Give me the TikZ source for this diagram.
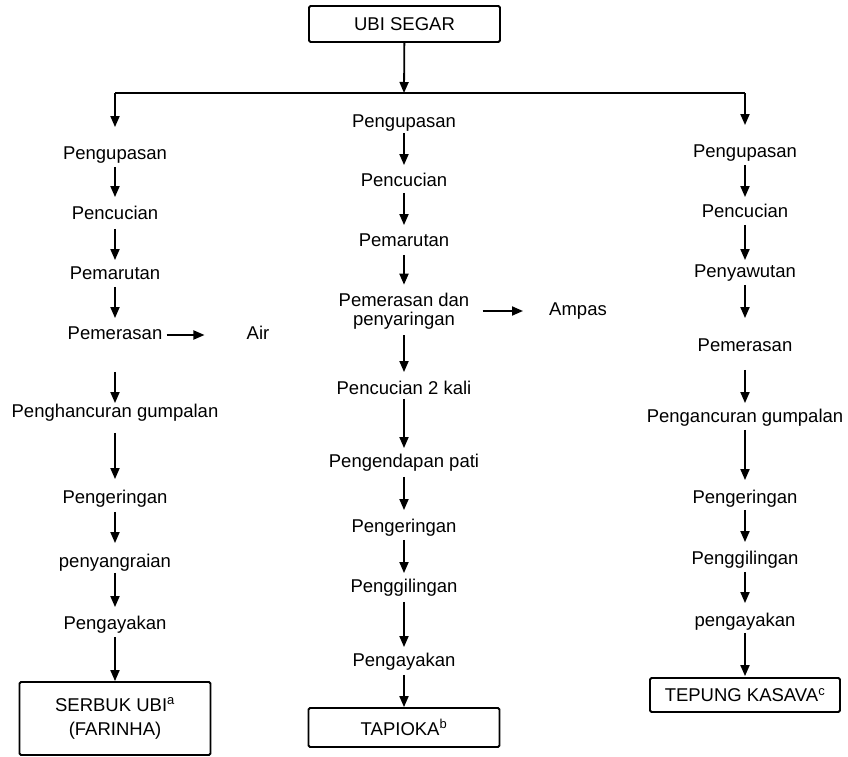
\documentclass[tikz,border=0pt]{standalone}
\usepackage{fontspec}
\setmainfont{Liberation Sans}
\usetikzlibrary{arrows.meta}
\begin{document}
\begin{tikzpicture}[x=1pt,y=-1pt,
  txt/.style={inner sep=0pt, text height=13.5pt, text depth=4pt, font=\fontsize{18.5}{19}\selectfont},
  txt2/.style={inner sep=0pt, align=center, font=\fontsize{18.5}{19}\selectfont},
  box/.style={draw, line width=1.8pt, rounded corners=1.5pt, inner sep=0pt, align=center, font=\fontsize{18.5}{24}\selectfont},
  arr/.style={line width=1.8pt, -{Triangle[width=9pt,length=11pt]}},
  ln/.style={line width=1.8pt}]
\useasboundingbox (0,0) rectangle (848,757);

% top
\node[box, minimum width=191pt, minimum height=36pt] (ubi) at (404.5,24) {UBI SEGAR};
\coordinate (jm) at (404,93);
\coordinate (jl) at (115,93);
\coordinate (jr) at (745,93);
\draw[arr] (ubi) -- (jm);
\draw[ln] (jl) -- (jr);

% left column
\node[txt] (l1) at (115,155) {Pengupasan};
\node[txt] (l2) at (115,215) {Pencucian};
\node[txt] (l3) at (115,275) {Pemarutan};
\node[txt] (l4) at (115,335) {Pemerasan};
\node[txt] (air) at (258,335) {Air};
\node[txt] (l5) at (115,413) {Penghancuran gumpalan};
\node[txt] (l6) at (115,499) {Pengeringan};
\node[txt] (l7) at (115,563) {penyangraian};
\node[txt] (l8) at (115,625) {Pengayakan};
\node[box, minimum width=191pt, minimum height=73pt] (serbuk) at (115,718.5) {SERBUK UBI\textsuperscript{a}\\(FARINHA)};

\draw[arr, shorten >=19pt] (jl) -- (l1);
\draw[arr, shorten <=3pt, shorten >=9pt] (l1) -- (l2);
\draw[arr, shorten <=5pt, shorten >=6pt] (l2) -- (l3);
\draw[arr, shorten <=3pt, shorten >=8pt] (l3) -- (l4);
\draw[arr, shorten <=28pt, shorten >=1pt] (l4) -- (l5);
\draw[arr, shorten <=11pt, shorten >=11pt] (l5) -- (l6);
\draw[arr, shorten <=4pt, shorten >=11pt] (l6) -- (l7);
\draw[arr, shorten <=1pt, shorten >=9pt] (l7) -- (l8);
\draw[arr, shorten <=3pt] (l8) -- (serbuk);
\draw[arr, shorten <=4pt, shorten >=42pt] (l4) -- (air);

% middle column
\node[txt] (m1) at (404,123) {Pengupasan};
\node[txt] (m2) at (404,182) {Pencucian};
\node[txt] (m3) at (404,242) {Pemarutan};
\node[txt2] (m4) at (404,311) {Pemerasan dan\\penyaringan};
\node[txt] (ampas) at (578,311) {Ampas};
\node[txt] (m5) at (404,390) {Pencucian 2 kali};
\node[txt] (m6) at (404,463) {Pengendapan pati};
\node[txt] (m7) at (404,528) {Pengeringan};
\node[txt] (m8) at (404,588) {Penggilingan};
\node[txt] (m9) at (404,662) {Pengayakan};
\node[box, minimum width=191pt, minimum height=39pt] (tapioka) at (404,727.5) {TAPIOKA\textsuperscript{b}};

\draw[arr, shorten <=1pt, shorten >=8pt] (m1) -- (m2);
\draw[arr, shorten <=2pt, shorten >=8pt] (m2) -- (m3);
\draw[arr, shorten <=4pt, shorten >=8pt] (m3) -- (m4);
\draw[arr, shorten <=6pt, shorten >=9pt] (m4) -- (m5);
\draw[arr, shorten >=6pt] (m5) -- (m6);
\draw[arr, shorten <=5pt, shorten >=9pt] (m6) -- (m7);
\draw[arr, shorten <=3pt, shorten >=6pt] (m7) -- (m8);
\draw[arr, shorten <=5pt, shorten >=6pt] (m8) -- (m9);
\draw[arr, shorten <=4pt] (m9) -- (tapioka);
\draw[arr, shorten <=13pt, shorten >=26pt] (m4) -- (ampas);

% right column
\node[txt] (r1) at (745,153) {Pengupasan};
\node[txt] (r2) at (745,213) {Pencucian};
\node[txt] (r3) at (745,273) {Penyawutan};
\node[txt] (r4) at (745,347) {Pemerasan};
\node[txt] (r5) at (745,418) {Pengancuran gumpalan};
\node[txt] (r6) at (745,499) {Pengeringan};
\node[txt] (r7) at (745,560) {Penggilingan};
\node[txt] (r8) at (745,622) {pengayakan};
\node[box, minimum width=190pt, minimum height=34pt] (tepung) at (745,695) {TEPUNG KASAVA\textsuperscript{c}};

\draw[arr, shorten >=19pt] (jr) -- (r1);
\draw[arr, shorten <=3pt, shorten >=7pt] (r1) -- (r2);
\draw[arr, shorten <=3pt, shorten >=4pt] (r2) -- (r3);
\draw[arr, shorten <=3pt, shorten >=20pt] (r3) -- (r4);
\draw[arr, shorten <=14pt, shorten >=6pt] (r4) -- (r5);
\draw[arr, shorten <=3pt, shorten >=10pt] (r5) -- (r6);
\draw[arr, shorten <=2pt, shorten >=9pt] (r6) -- (r7);
\draw[arr, shorten <=3pt, shorten >=10pt] (r7) -- (r8);
\draw[arr, shorten <=2pt, shorten >=1pt] (r8) -- (tepung);
\end{tikzpicture}
\end{document}
